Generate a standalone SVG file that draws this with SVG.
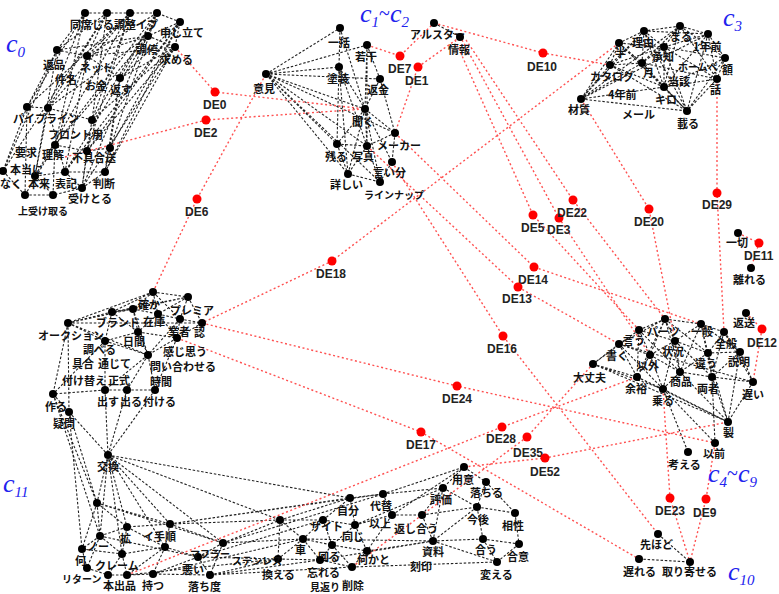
<svg xmlns="http://www.w3.org/2000/svg" width="779" height="594" viewBox="0 0 779 594">
<style>
.e{fill:none;stroke:#222;stroke-width:1.1;stroke-dasharray:2.5 1.8}
.re{fill:none;stroke:#ff5050;stroke-width:1.4;stroke-dasharray:2 2.5}
.d{fill:#000}
.r{fill:#ff0000}
.t{font-family:"Noto Sans CJK JP","Noto Sans CJK SC",sans-serif;font-weight:bold;font-size:11px;fill:#111}
.s{font-size:10px}
.de{font-family:"Liberation Sans",Arial,sans-serif;font-weight:bold;font-size:12px;fill:#222}
.cl{font-family:"Liberation Serif","DejaVu Serif",serif;font-style:italic;font-size:26px;fill:#2222ee}
.sb{font-size:15px}
.tl{font-style:normal;font-size:20px}
</style>
<rect width="779" height="594" fill="#fff"/>
<g id="connectors">
<path class="e" d="M85 13L57 50M85 13L27 107M85 13L48 108M85 13L55 145M107 13L57 50M107 13L87 56M107 13L48 108M107 13L92 120M107 13L3 171M130 13L87 56M130 13L27 107M130 13L92 120M130 13L87 151M130 13L35 176M157 13L87 56M157 13L120 78M157 13L92 120M157 13L110 148M157 13L82 188M180 22L120 78M180 22L110 148M180 22L87 151M180 22L105 172M148 36L87 56M148 36L48 108M148 36L55 145M148 36L65 172M175 47L120 78M175 47L92 120M175 47L87 151M175 47L105 172M57 50L27 107M57 50L3 171M57 50L35 176M87 56L55 145M87 56L65 172M120 78L110 148M120 78L105 172M27 107L3 171M27 107L25 195M48 108L35 176M48 108L65 172M92 120L87 151M92 120L82 188M55 145L25 195M55 145L53 195M110 148L105 172M87 151L82 188M3 171L25 195M35 176L53 195M65 172L82 188M105 172L82 188M85 13L107 13L130 13L157 13L180 22M148 36L175 47L180 22M57 50L87 56L120 78M27 107L48 108L92 120M55 145L87 151L110 148M35 176L65 172L105 172M25 195L53 195L82 188M148 36L57 50M175 47L87 56M180 22L148 36M130 13L48 108M157 13L55 145M180 22L65 172M175 47L82 188"/>
<path class="e" d="M266 74L340 28M266 74L367 45M266 74L339 67M266 74L380 79M266 74L365 109M266 74L395 133M266 74L337 144M266 74L367 146M266 74L348 174M266 74L380 182M340 28L339 67M340 28L365 109M340 28L337 144M367 45L380 79M367 45L365 109M367 45L367 146M339 67L365 109M339 67L367 146M380 79L365 109M380 79L395 133M365 109L337 144M365 109L367 146M365 109L395 133M365 109L392 162M365 109L348 174M365 109L380 182M395 133L367 146M395 133L392 162M337 144L348 174M367 146L348 174M367 146L380 182M392 162L380 182M348 174L380 182M337 144L367 146M339 67L348 174M434 23L460 37"/>
<path class="e" d="M680 26L644 31M680 26L708 34M680 26L664 47M680 26L642 63M680 26L664 87M680 26L717 79M680 26L725 58M644 31L619 43M644 31L664 47M644 31L642 63M644 31L610 65M644 31L664 87M644 31L581 99M644 31L687 111M644 31L708 34M708 34L664 47M708 34L725 58M708 34L717 79M708 34L664 87M708 34L687 111M619 43L610 65M619 43L642 63M619 43L664 47M619 43L581 99M619 43L664 87M664 47L642 63M664 47L664 87M664 47L725 58M664 47L717 79M664 47L687 111M664 47L610 65M725 58L717 79M725 58L687 111M725 58L664 87M610 65L642 63M610 65L581 99M610 65L664 87M610 65L687 111M642 63L664 87M642 63L581 99M642 63L687 111M642 63L717 79M717 79L664 87M717 79L687 111M664 87L581 99M664 87L687 111M581 99L687 111M619 43L687 111M680 26L581 99M708 34L581 99"/>
<path class="e" d="M665 319L701 324M665 319L639 330M665 319L675 341M665 319L650 355M665 319L708 353M665 319L680 372M665 319L619 344M665 319L637 377M701 324L724 332M701 324L675 341M701 324L708 353M701 324L712 377M701 324L740 352M701 324L680 372M724 332L740 352M724 332L708 353M724 332L712 377M724 332L753 382M639 330L619 344M639 330L675 341M639 330L650 355M639 330L593 364M639 330L637 377M639 330L680 372M675 341L650 355M675 341L708 353M675 341L680 372M675 341L663 389M675 341L712 377M619 344L593 364M619 344L650 355M619 344L637 377M619 344L663 389M740 352L708 353M740 352L712 377M740 352L753 382M740 352L728 422M650 355L680 372M650 355L637 377M650 355L663 389M708 353L680 372M708 353L712 377M708 353L728 422M593 364L637 377M593 364L663 389M680 372L712 377M680 372L663 389M680 372L728 422M712 377L753 382M712 377L728 422M637 377L663 389M637 377L728 422M753 382L728 422M663 389L728 422M663 389L715 443M712 377L715 443M663 389L688 452M639 559L690 562M658 534L690 562M593 364L728 422M619 344L753 382"/>
<path class="e" d="M153 292L188 297M153 292L112 312M153 292L133 309M153 292L158 314M153 292L68 323M153 292L180 319M188 297L180 319M188 297L202 323M188 297L158 314M188 297L112 312M112 312L133 309M112 312L68 323M112 312L138 332M112 312L105 341M133 309L158 314M133 309L138 332M133 309L148 355M158 314L180 319M158 314L138 332M158 314L177 338M180 319L202 323M180 319L177 338M180 319L148 355M202 323L177 338M68 323L105 341M68 323L53 394M68 323L69 412M68 323L188 297M138 332L105 341M138 332L148 355M138 332L177 338M105 341L105 390M105 341L148 355M105 341L53 394M177 338L148 355M177 338L155 390M148 355L105 390M148 355L127 390M148 355L155 390M105 390L127 390M105 390L108 455M105 390L53 394M127 390L108 455M127 390L155 390M53 394L69 412M69 412L108 455M155 390L108 455M53 394L97 503M69 412L97 503M69 412L82 549M53 394L100 536M108 455L97 503M108 455L127 527M108 455L100 536M108 455L170 524M108 455L223 543M108 455L165 547M108 455L280 520M108 455L350 498M108 455L122 554M68 323L202 323M68 323L148 355"/>
<path class="e" d="M97 503L127 527M97 503L100 536M97 503L82 549M97 503L170 524M170 524L127 527M170 524L223 543M170 524L165 547M170 524L280 520M170 524L350 498M127 527L100 536M127 527L165 547M127 527L122 554M100 536L82 549M100 536L122 554M100 536L87 568M223 543L198 557M223 543L280 520M223 543L210 575M223 543L383 494M223 543L303 539M82 549L87 568M82 549L122 554M165 547L122 554M165 547L198 557M165 547L153 574M165 547L127 575M122 554L108 575M122 554L127 575M198 557L210 575M198 557L153 574M198 557L278 559M87 568L108 575L127 575L153 574L210 575M210 575L278 559M210 575L320 560M280 520L323 520M280 520L303 539M280 520L278 559M280 520L350 498M323 520L355 525M323 520L303 539M323 520L332 545M323 520L350 498M355 525L392 515M355 525L332 545M355 525L367 551M350 498L383 494M350 498L355 525M383 494L392 515M383 494L464 467M383 494L443 488M392 515L422 515M392 515L367 551M422 515L443 488M422 515L433 541M422 515L477 507M303 539L332 545M303 539L278 559M303 539L320 560M332 545L367 551M332 545L320 560M332 545L352 567M367 551L352 567M367 551L433 541M278 559L320 560L352 567M464 467L486 482M464 467L443 488M486 482L477 507M486 482L515 513M443 488L477 507M443 488L433 541M477 507L515 513M477 507L483 539M477 507L433 541M515 513L519 544M433 541L483 539M483 539L519 544M483 539L497 562M519 544L497 562M433 541L497 562M170 524L383 494M198 557L323 520M210 575L352 567M303 539L433 541M352 567L497 562M320 560L433 541M392 515L464 467M355 525L443 488M127 575L278 559M153 574L303 539M97 503L223 543M100 536L198 557"/>
<path class="re" d="M175 47L215 92L365 109M65 157L206 120L365 109M153 292L197 199L266 74M367 45L400 56L434 23M460 37L418 67L395 133M434 23L543 53L610 65M619 43L332 261L202 323M455 40L533 215L639 330M462 40L559 218L650 355M466 40L573 200L665 319M581 99L649 209L675 341M717 79L717 193L724 332M395 133L534 267L701 324M367 146L518 287L619 344M392 162L503 336L658 534M202 323L457 386L715 443M177 338L421 432L639 559M127 575L502 427L637 377M352 567L527 437L593 364M464 467L545 458L728 422M663 389L670 498L690 562M715 443L706 499L690 562M738 233L759 243L751 268M746 313L762 329L753 382"/>
</g>
<g id="cluster-labels">
<text class="cl" x="6" y="52">c<tspan class="sb" dy="5">0</tspan></text>
<text class="cl" x="360" y="22">c<tspan class="sb" dy="5">1</tspan><tspan class="tl" dy="-7">~</tspan><tspan dy="2">c</tspan><tspan class="sb" dy="5">2</tspan></text>
<text class="cl" x="723" y="26">c<tspan class="sb" dy="5">3</tspan></text>
<text class="cl" x="708" y="482">c<tspan class="sb" dy="5">4</tspan><tspan class="tl" dy="-7">~</tspan><tspan dy="2">c</tspan><tspan class="sb" dy="5">9</tspan></text>
<text class="cl" x="728" y="580">c<tspan class="sb" dy="5">10</tspan></text>
<text class="cl" x="3" y="492">c<tspan class="sb" dy="5">11</tspan></text>
</g>
<g id="de-nodes">
<g id="DE0"><circle class="r" cx="215" cy="92" r="4.5"/><text class="de" x="203" y="109">DE0</text></g>
<g id="DE2"><circle class="r" cx="206" cy="120" r="4.5"/><text class="de" x="194" y="137">DE2</text></g>
<g id="DE6"><circle class="r" cx="197" cy="199" r="4.5"/><text class="de" x="185" y="216">DE6</text></g>
<g id="DE7"><circle class="r" cx="400" cy="56" r="4.5"/><text class="de" x="388" y="73">DE7</text></g>
<g id="DE1"><circle class="r" cx="418" cy="67" r="4.5"/><text class="de" x="405" y="85">DE1</text></g>
<g id="DE10"><circle class="r" cx="543" cy="53" r="4.5"/><text class="de" x="527" y="71">DE10</text></g>
<g id="DE18"><circle class="r" cx="332" cy="261" r="4.5"/><text class="de" x="316" y="278">DE18</text></g>
<g id="DE5"><circle class="r" cx="533" cy="215" r="4.5"/><text class="de" x="521" y="232">DE5</text></g>
<g id="DE3"><circle class="r" cx="559" cy="218" r="4.5"/><text class="de" x="547" y="234">DE3</text></g>
<g id="DE22"><circle class="r" cx="573" cy="200" r="4.5"/><text class="de" x="557" y="217">DE22</text></g>
<g id="DE20"><circle class="r" cx="649" cy="209" r="4.5"/><text class="de" x="634" y="226">DE20</text></g>
<g id="DE29"><circle class="r" cx="717" cy="193" r="4.5"/><text class="de" x="702" y="209">DE29</text></g>
<g id="DE14"><circle class="r" cx="534" cy="267" r="4.5"/><text class="de" x="518" y="284">DE14</text></g>
<g id="DE13"><circle class="r" cx="518" cy="287" r="4.5"/><text class="de" x="502" y="303">DE13</text></g>
<g id="DE16"><circle class="r" cx="503" cy="336" r="4.5"/><text class="de" x="487" y="353">DE16</text></g>
<g id="DE24"><circle class="r" cx="457" cy="386" r="4.5"/><text class="de" x="442" y="403">DE24</text></g>
<g id="DE17"><circle class="r" cx="421" cy="432" r="4.5"/><text class="de" x="406" y="449">DE17</text></g>
<g id="DE28"><circle class="r" cx="502" cy="427" r="4.5"/><text class="de" x="486" y="443">DE28</text></g>
<g id="DE35"><circle class="r" cx="527" cy="437" r="4.5"/><text class="de" x="513" y="457">DE35</text></g>
<g id="DE52"><circle class="r" cx="545" cy="458" r="4.5"/><text class="de" x="530" y="476">DE52</text></g>
<g id="DE23"><circle class="r" cx="670" cy="498" r="4.5"/><text class="de" x="655" y="515">DE23</text></g>
<g id="DE9"><circle class="r" cx="706" cy="499" r="4.5"/><text class="de" x="693" y="517">DE9</text></g>
<g id="DE11"><circle class="r" cx="759" cy="243" r="4.5"/><text class="de" x="744" y="260">DE11</text></g>
<g id="DE12"><circle class="r" cx="762" cy="329" r="4.5"/><text class="de" x="747" y="347">DE12</text></g>
</g>
<g id="c0-nodes">
<g id="c0-1"><circle class="d" cx="85" cy="13" r="4"/><text class="t" x="70" y="29">同席じる調整イプ</text></g>
<g id="c0-2"><circle class="d" cx="107" cy="13" r="4"/></g>
<g id="c0-3"><circle class="d" cx="130" cy="13" r="4"/></g>
<g id="c0-4"><circle class="d" cx="157" cy="13" r="4"/></g>
<g id="c0-5"><circle class="d" cx="180" cy="22" r="4"/><text class="t" x="160" y="37">申し立て</text></g>
<g id="c0-6"><circle class="d" cx="148" cy="36" r="4"/><text class="t" x="136" y="54">調停</text></g>
<g id="c0-7"><circle class="d" cx="175" cy="47" r="4"/><text class="t" x="160" y="64">求める</text></g>
<g id="c0-8"><circle class="d" cx="57" cy="50" r="4"/><text class="t" x="43" y="69">返品</text></g>
<g id="c0-9"><circle class="d" cx="87" cy="56" r="4"/><text class="t" x="80" y="72">ネット</text></g>
<g id="c0-10"><circle class="d" cx="120" cy="78" r="4"/><text class="t" x="110" y="94">返す</text></g>
<g id="c0-11"><circle class="d" cx="27" cy="107" r="4"/><text class="t" x="13" y="123">パイプライン</text></g>
<g id="c0-12"><circle class="d" cx="48" cy="108" r="4"/><text class="t" x="55" y="84">件名</text></g>
<g id="c0-13"><circle class="d" cx="92" cy="120" r="4"/><text class="t" x="48" y="139">フロント用</text></g>
<g id="c0-14"><circle class="d" cx="55" cy="145" r="4"/><text class="t" x="15" y="157">要求</text></g>
<g id="c0-15"><circle class="d" cx="110" cy="148" r="4"/><text class="t" x="72" y="162">不具合送</text></g>
<g id="c0-16"><circle class="d" cx="87" cy="151" r="4"/><text class="t" x="42" y="159">理解</text></g>
<g id="c0-17"><circle class="d" cx="3" cy="171" r="4"/><text class="t" x="0" y="188">なく</text></g>
<g id="c0-18"><circle class="d" cx="35" cy="176" r="4"/><text class="t" x="28" y="188">本来</text></g>
<g id="c0-19"><circle class="d" cx="65" cy="172" r="4"/><text class="t" x="55" y="188">表記</text></g>
<g id="c0-20"><circle class="d" cx="105" cy="172" r="4"/><text class="t" x="93" y="188">判断</text></g>
<g id="c0-21"><circle class="d" cx="82" cy="188" r="4"/><text class="t" x="68" y="203">受けとる</text></g>
<g id="c0-22"><circle class="d" cx="25" cy="195" r="4"/><text class="t s" x="18" y="215">上受け取る</text></g>
<g id="c0-23"><circle class="d" cx="53" cy="195" r="4"/></g>
<g id="c0-24"><text class="t" x="85" y="90">お金</text></g>
<g id="c0-25"><text class="t" x="10" y="174">本当に</text></g>
</g>
<g id="c1-nodes">
<g id="c1-1"><circle class="d" cx="340" cy="28" r="4"/><text class="t" x="328" y="47">一括</text></g>
<g id="c1-2"><circle class="d" cx="367" cy="45" r="4"/><text class="t" x="355" y="61">若干</text></g>
<g id="c1-3"><circle class="d" cx="266" cy="74" r="4"/><text class="t" x="253" y="93">意見</text></g>
<g id="c1-4"><circle class="d" cx="339" cy="67" r="4"/><text class="t" x="327" y="83">塗装</text></g>
<g id="c1-5"><circle class="d" cx="380" cy="79" r="4"/><text class="t" x="367" y="94">返金</text></g>
<g id="c1-6"><circle class="d" cx="365" cy="109" r="4"/><text class="t" x="352" y="126">聞く</text></g>
<g id="c1-7"><circle class="d" cx="395" cy="133" r="4"/><text class="t" x="377" y="150">メーカー</text></g>
<g id="c1-8"><circle class="d" cx="337" cy="144" r="4"/><text class="t" x="325" y="161">残る</text></g>
<g id="c1-9"><circle class="d" cx="367" cy="146" r="4"/><text class="t" x="352" y="161">写真</text></g>
<g id="c1-10"><circle class="d" cx="392" cy="162" r="4"/><text class="t" x="373" y="177">言い分</text></g>
<g id="c1-11"><circle class="d" cx="348" cy="174" r="4"/><text class="t" x="330" y="189">詳しい</text></g>
<g id="c1-12"><circle class="d" cx="380" cy="182" r="4"/><text class="t s" x="364" y="199">ラインナップ</text></g>
<g id="c1-13"><circle class="d" cx="434" cy="23" r="4"/><text class="t" x="410" y="39">アルスター</text></g>
<g id="c1-14"><circle class="d" cx="460" cy="37" r="4"/><text class="t" x="448" y="54">情報</text></g>
</g>
<g id="c3-nodes">
<g id="c3-1"><circle class="d" cx="680" cy="26" r="4"/><text class="t" x="670" y="41">まる</text></g>
<g id="c3-2"><circle class="d" cx="644" cy="31" r="4"/><text class="t" x="632" y="47">理由</text></g>
<g id="c3-3"><circle class="d" cx="708" cy="34" r="4"/><text class="t" x="693" y="51">1年前</text></g>
<g id="c3-4"><circle class="d" cx="619" cy="43" r="4"/><text class="t" x="615" y="57">半</text></g>
<g id="c3-5"><circle class="d" cx="664" cy="47" r="4"/><text class="t" x="652" y="61">承知</text></g>
<g id="c3-6"><circle class="d" cx="725" cy="58" r="4"/><text class="t" x="722" y="74">額</text></g>
<g id="c3-7"><circle class="d" cx="610" cy="65" r="4"/><text class="t" x="590" y="81">カタログ</text></g>
<g id="c3-8"><circle class="d" cx="642" cy="63" r="4"/><text class="t" x="643" y="77">月</text></g>
<g id="c3-9"><circle class="d" cx="717" cy="79" r="4"/><text class="t" x="710" y="94">話</text></g>
<g id="c3-10"><circle class="d" cx="664" cy="87" r="4"/><text class="t" x="668" y="86">当該</text></g>
<g id="c3-11"><circle class="d" cx="581" cy="99" r="4"/><text class="t" x="568" y="114">材質</text></g>
<g id="c3-12"><circle class="d" cx="687" cy="111" r="4"/><text class="t" x="677" y="128">載る</text></g>
<g id="c3-13"><text class="t s" x="678" y="71">ホームペ</text></g>
<g id="c3-14"><text class="t" x="608" y="99">4年前</text></g>
<g id="c3-15"><text class="t" x="655" y="104">キロ</text></g>
<g id="c3-16"><text class="t" x="622" y="119">メール</text></g>
</g>
<g id="c4-nodes">
<g id="c4-1"><circle class="d" cx="665" cy="319" r="4"/><text class="t" x="647" y="336">パーツ</text></g>
<g id="c4-2"><circle class="d" cx="701" cy="324" r="4"/><text class="t" x="691" y="336">一般</text></g>
<g id="c4-3"><circle class="d" cx="724" cy="332" r="4"/><text class="t" x="715" y="348">全般</text></g>
<g id="c4-4"><circle class="d" cx="639" cy="330" r="4"/><text class="t" x="623" y="345">言う</text></g>
<g id="c4-5"><circle class="d" cx="675" cy="341" r="4"/><text class="t" x="662" y="356">状況</text></g>
<g id="c4-6"><circle class="d" cx="619" cy="344" r="4"/><text class="t" x="606" y="360">書く</text></g>
<g id="c4-7"><circle class="d" cx="740" cy="352" r="4"/><text class="t" x="728" y="366">説明</text></g>
<g id="c4-8"><circle class="d" cx="650" cy="355" r="4"/><text class="t" x="637" y="370">以外</text></g>
<g id="c4-9"><circle class="d" cx="708" cy="353" r="4"/><text class="t" x="695" y="368">違う</text></g>
<g id="c4-10"><circle class="d" cx="593" cy="364" r="4"/><text class="t" x="573" y="382">大丈夫</text></g>
<g id="c4-11"><circle class="d" cx="680" cy="372" r="4"/><text class="t" x="670" y="386">商品</text></g>
<g id="c4-12"><circle class="d" cx="712" cy="377" r="4"/><text class="t" x="697" y="393">両者</text></g>
<g id="c4-13"><circle class="d" cx="637" cy="377" r="4"/><text class="t" x="625" y="393">余裕</text></g>
<g id="c4-14"><circle class="d" cx="753" cy="382" r="4"/><text class="t" x="742" y="399">遅い</text></g>
<g id="c4-15"><circle class="d" cx="663" cy="389" r="4"/><text class="t" x="652" y="405">乗る</text></g>
<g id="c4-16"><circle class="d" cx="728" cy="422" r="4"/><text class="t" x="723" y="437">製</text></g>
<g id="c4-17"><circle class="d" cx="715" cy="443" r="4"/><text class="t" x="703" y="458">以前</text></g>
<g id="c4-18"><circle class="d" cx="688" cy="452" r="4"/><text class="t" x="668" y="469">考える</text></g>
<g id="c4-19"><circle class="d" cx="738" cy="233" r="4"/><text class="t" x="726" y="247">一切</text></g>
<g id="c4-20"><circle class="d" cx="751" cy="268" r="4"/><text class="t" x="733" y="284">離れる</text></g>
<g id="c4-21"><circle class="d" cx="746" cy="313" r="4"/><text class="t" x="733" y="327">返送</text></g>
</g>
<g id="c10-nodes">
<g id="c10-1"><circle class="d" cx="658" cy="534" r="4"/><text class="t" x="640" y="549">先ほど</text></g>
<g id="c10-2"><circle class="d" cx="639" cy="559" r="4"/><text class="t" x="623" y="576">遅れる</text></g>
<g id="c10-3"><circle class="d" cx="690" cy="562" r="4"/><text class="t" x="662" y="576">取り寄せる</text></g>
</g>
<g id="c11-nodes">
<g id="c11-1"><circle class="d" cx="153" cy="292" r="4"/><text class="t" x="138" y="309">確か</text></g>
<g id="c11-2"><circle class="d" cx="188" cy="297" r="4"/><text class="t" x="170" y="315">プレミア</text></g>
<g id="c11-3"><circle class="d" cx="112" cy="312" r="4"/><text class="t" x="96" y="327">ブランド</text></g>
<g id="c11-4"><circle class="d" cx="133" cy="309" r="4"/><text class="t" x="143" y="326">在庫</text></g>
<g id="c11-5"><circle class="d" cx="158" cy="314" r="4"/></g>
<g id="c11-6"><circle class="d" cx="180" cy="319" r="4"/><text class="t" x="168" y="336">業者</text></g>
<g id="c11-7"><circle class="d" cx="202" cy="323" r="4"/><text class="t" x="194" y="337">認</text></g>
<g id="c11-8"><circle class="d" cx="68" cy="323" r="4"/><text class="t" x="38" y="340">オークション</text></g>
<g id="c11-9"><circle class="d" cx="138" cy="332" r="4"/><text class="t" x="123" y="346">日間</text></g>
<g id="c11-10"><circle class="d" cx="105" cy="341" r="4"/><text class="t" x="83" y="354">調べる</text></g>
<g id="c11-11"><circle class="d" cx="177" cy="338" r="4"/><text class="t" x="163" y="356">感じ思う</text></g>
<g id="c11-12"><circle class="d" cx="148" cy="355" r="4"/><text class="t" x="150" y="371">問い合わせる</text></g>
<g id="c11-13"><circle class="d" cx="105" cy="390" r="4"/><text class="t" x="97" y="406">出す</text></g>
<g id="c11-14"><circle class="d" cx="127" cy="390" r="4"/><text class="t" x="120" y="406">出る</text></g>
<g id="c11-15"><circle class="d" cx="53" cy="394" r="4"/><text class="t" x="45" y="411">作る</text></g>
<g id="c11-16"><circle class="d" cx="69" cy="412" r="4"/><text class="t" x="53" y="428">疑問</text></g>
<g id="c11-17"><circle class="d" cx="108" cy="455" r="4"/><text class="t" x="97" y="471">交換</text></g>
<g id="c11-18"><circle class="d" cx="155" cy="390" r="4"/><text class="t" x="143" y="406">付ける</text></g>
<g id="c11-19"><text class="t" x="72" y="368">具合</text></g>
<g id="c11-20"><text class="t" x="98" y="368">通じて</text></g>
<g id="c11-21"><text class="t" x="62" y="385">付け替え</text></g>
<g id="c11-22"><text class="t" x="108" y="385">正式</text></g>
<g id="c11-23"><text class="t" x="150" y="386">時間</text></g>
<g id="c11-b1"><circle class="d" cx="97" cy="503" r="4"/></g>
<g id="c11-b2"><circle class="d" cx="170" cy="524" r="4"/><text class="t" x="143" y="541">イ手順</text></g>
<g id="c11-b3"><circle class="d" cx="127" cy="527" r="4"/><text class="t" x="120" y="543">拡</text></g>
<g id="c11-b4"><circle class="d" cx="100" cy="536" r="4"/><text class="t" x="87" y="551">ノー</text></g>
<g id="c11-b5"><circle class="d" cx="223" cy="543" r="4"/></g>
<g id="c11-b6"><circle class="d" cx="82" cy="549" r="4"/><text class="t" x="75" y="565">何</text></g>
<g id="c11-b7"><circle class="d" cx="165" cy="547" r="4"/></g>
<g id="c11-b8"><circle class="d" cx="122" cy="554" r="4"/><text class="t" x="95" y="570">クレーム</text></g>
<g id="c11-b9"><circle class="d" cx="198" cy="557" r="4"/><text class="t s" x="190" y="558">マフラー</text></g>
<g id="c11-b10"><circle class="d" cx="87" cy="568" r="4"/><text class="t s" x="62" y="583">リターン</text></g>
<g id="c11-b11"><circle class="d" cx="108" cy="575" r="4"/><text class="t" x="103" y="590">本出品</text></g>
<g id="c11-b12"><circle class="d" cx="127" cy="575" r="4"/></g>
<g id="c11-b13"><circle class="d" cx="153" cy="574" r="4"/><text class="t" x="142" y="590">持つ</text></g>
<g id="c11-b14"><circle class="d" cx="210" cy="575" r="4"/><text class="t" x="188" y="591">落ち度</text></g>
<g id="c11-b15"><circle class="d" cx="383" cy="494" r="4"/><text class="t" x="370" y="510">代替</text></g>
<g id="c11-b16"><circle class="d" cx="350" cy="498" r="4"/><text class="t" x="337" y="515">自分</text></g>
<g id="c11-b17"><circle class="d" cx="280" cy="520" r="4"/></g>
<g id="c11-b18"><circle class="d" cx="323" cy="520" r="4"/><text class="t" x="310" y="531">サイト</text></g>
<g id="c11-b19"><circle class="d" cx="355" cy="525" r="4"/><text class="t" x="342" y="541">同じ</text></g>
<g id="c11-b20"><circle class="d" cx="392" cy="515" r="4"/><text class="t" x="369" y="528">以上</text></g>
<g id="c11-b21"><circle class="d" cx="422" cy="515" r="4"/><text class="t" x="394" y="533">返し合う</text></g>
<g id="c11-b22"><circle class="d" cx="303" cy="539" r="4"/><text class="t" x="295" y="554">車</text></g>
<g id="c11-b23"><circle class="d" cx="332" cy="545" r="4"/><text class="t" x="318" y="561">回る</text></g>
<g id="c11-b24"><circle class="d" cx="367" cy="551" r="4"/><text class="t" x="357" y="564">何かと</text></g>
<g id="c11-b25"><circle class="d" cx="278" cy="559" r="4"/><text class="t" x="262" y="579">換える</text></g>
<g id="c11-b26"><circle class="d" cx="320" cy="560" r="4"/><text class="t" x="307" y="577">忘れる</text></g>
<g id="c11-b27"><circle class="d" cx="352" cy="567" r="4"/><text class="t" x="342" y="590">削除</text></g>
<g id="c11-b28"><circle class="d" cx="464" cy="467" r="4"/><text class="t" x="452" y="484">用意</text></g>
<g id="c11-b29"><circle class="d" cx="486" cy="482" r="4"/><text class="t" x="470" y="497">落ちる</text></g>
<g id="c11-b30"><circle class="d" cx="443" cy="488" r="4"/><text class="t" x="430" y="504">評価</text></g>
<g id="c11-b31"><circle class="d" cx="477" cy="507" r="4"/><text class="t" x="467" y="524">今後</text></g>
<g id="c11-b32"><circle class="d" cx="515" cy="513" r="4"/><text class="t" x="502" y="530">相性</text></g>
<g id="c11-b33"><circle class="d" cx="433" cy="541" r="4"/><text class="t" x="422" y="556">資料</text></g>
<g id="c11-b34"><circle class="d" cx="483" cy="539" r="4"/><text class="t" x="475" y="554">合う</text></g>
<g id="c11-b35"><circle class="d" cx="519" cy="544" r="4"/><text class="t" x="507" y="561">合意</text></g>
<g id="c11-b36"><circle class="d" cx="497" cy="562" r="4"/><text class="t" x="480" y="579">変える</text></g>
<g id="c11-b37"><text class="t" x="182" y="574">悪い</text></g>
<g id="c11-b38"><text class="t s" x="232" y="565">ステンレス</text></g>
<g id="c11-b39"><text class="t s" x="310" y="591">見返り</text></g>
<g id="c11-b40"><text class="t" x="410" y="571">刻印</text></g>
</g>
</svg>
